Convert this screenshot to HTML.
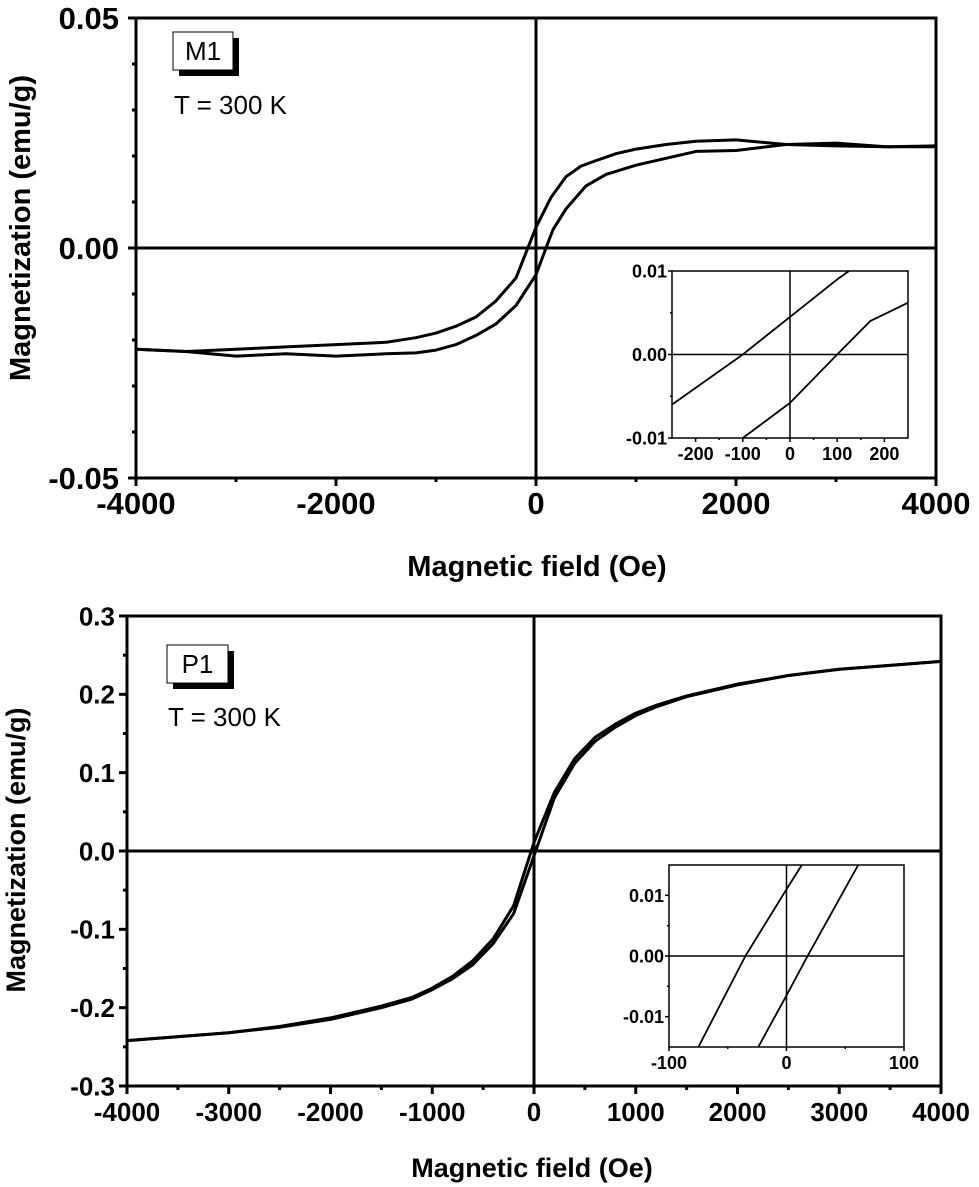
<!DOCTYPE html>
<html><head><meta charset="utf-8"><style>
body{margin:0;background:#fff}
svg{display:block;font-family:"Liberation Sans",Arial,sans-serif}
</style></head><body>
<svg id="s" width="979" height="1187" viewBox="0 0 979 1187" xmlns="http://www.w3.org/2000/svg"></svg>
<script>
// ---- Data: M1 (top) ----
const m1UpperH=[-4000,-3500,-3000,-2500,-2000,-1500,-1200,-1000,-800,-600,-400,-200,0,150,300,450,600,800,1000,1300,1600,2000,2500,3000,3500,4000];
const m1UpperM=[-0.022,-0.0225,-0.022,-0.0215,-0.021,-0.0205,-0.0195,-0.0185,-0.017,-0.015,-0.0115,-0.0065,0.0045,0.011,0.0155,0.0178,0.019,0.0205,0.0215,0.0225,0.0232,0.0235,0.0225,0.0222,0.022,0.022];
const m1LowerH=[-4000,-3500,-3000,-2500,-2000,-1500,-1200,-1000,-800,-600,-400,-200,0,100,170,300,500,700,1000,1300,1600,2000,2500,3000,3500,4000];
const m1LowerM=[-0.022,-0.0225,-0.0235,-0.023,-0.0235,-0.023,-0.0228,-0.0222,-0.021,-0.019,-0.0165,-0.0125,-0.0058,0,0.004,0.0085,0.0135,0.016,0.018,0.0195,0.021,0.0212,0.0225,0.0228,0.022,0.0222];
const m1InUpH=[-250,-100,0,100,125];
const m1InUpM=[-0.006,0,0.0045,0.009,0.010];
const m1InLoH=[-100,0,100,170,250];
const m1InLoM=[-0.010,-0.0058,0,0.004,0.0062];
// ---- Data: P1 (bottom) ----
const p1UpperH=[-4000,-3000,-2500,-2000,-1500,-1200,-1000,-800,-600,-400,-200,0,200,400,600,800,1000,1200,1500,2000,2500,3000,3500,4000];
const p1UpperM=[-0.242,-0.232,-0.224,-0.213,-0.198,-0.187,-0.175,-0.16,-0.14,-0.112,-0.07,0.011,0.075,0.118,0.145,0.162,0.176,0.186,0.198,0.213,0.224,0.232,0.237,0.242];
const p1LowerH=[-4000,-3000,-2500,-2000,-1500,-1200,-1000,-800,-600,-400,-200,0,200,400,600,800,1000,1200,1500,2000,2500,3000,3500,4000];
const p1LowerM=[-0.242,-0.232,-0.225,-0.215,-0.2,-0.189,-0.177,-0.163,-0.145,-0.118,-0.08,-0.006,0.068,0.112,0.14,0.158,0.173,0.184,0.197,0.212,0.224,0.232,0.237,0.242];
const p1InUpH=[-75,-35,0,13];
const p1InUpM=[-0.015,0,0.011,0.015];
const p1InLoH=[-24,0,18,61];
const p1InLoM=[-0.015,-0.0065,0,0.015];

const S=document.getElementById('s');
const NS='http://www.w3.org/2000/svg';
function mk(tag,attrs,parent){const e=document.createElementNS(NS,tag);for(const k in attrs)e.setAttribute(k,attrs[k]);(parent||S).appendChild(e);return e;}
function txt(str,attrs,parent){const e=mk('text',attrs,parent);e.textContent=str;return e;}

function lin(d0,d1,r0,r1){return v=>r0+(v-d0)*(r1-r0)/(d1-d0);}

function panel(o){
  const g=mk('g',{});
  
  
  const X=lin(o.xd[0],o.xd[1],o.x0,o.x1), Y=lin(o.yd[0],o.yd[1],o.y0,o.y1);
  const clipId=o.name+'-clip';
  const cp=mk('clipPath',{id:clipId},g);mk('rect',{x:o.x0,y:o.y1,width:o.x1-o.x0,height:o.y0-o.y1},cp);
  const zx=mk('line',{x1:X(0),x2:X(0),y1:o.y1,y2:o.y0,stroke:'#000','stroke-width':o.zw},g);
  
  const zy=mk('line',{x1:o.x0,x2:o.x1,y1:Y(0),y2:Y(0),stroke:'#000','stroke-width':o.zw},g);
  
  o.series.forEach((s,i)=>{
    const d=s.h.map((h,j)=>(j?'L':'M')+X(h).toFixed(1)+','+Y(s.m[j]).toFixed(1)).join('');
    const p=mk('path',{d:d,fill:'none',stroke:'#000','stroke-width':o.lw,'stroke-linejoin':'round','clip-path':'url(#'+clipId+')'},g);
    
    
  });
  const fr=mk('rect',{x:o.x0,y:o.y1,width:o.x1-o.x0,height:o.y0-o.y1,fill:'none',stroke:'#000','stroke-width':o.fw},g);
  
  o.xMinor.forEach(v=>mk('line',{x1:X(v),x2:X(v),y1:o.y0,y2:o.y0+o.tl/2,stroke:'#000','stroke-width':o.fw},g));
  o.xMajor.forEach((v,i)=>{
    mk('line',{x1:X(v),x2:X(v),y1:o.y0,y2:o.y0+o.tl,stroke:'#000','stroke-width':o.fw},g);
    const t=txt(o.xLabels[i],{x:X(v),y:o.y0+o.xlo,'text-anchor':'middle','font-size':o.fs,'font-weight':'bold'},g);
    
  });
  o.yMinor.forEach(v=>mk('line',{x1:o.x0,x2:o.x0-o.tl/2,y1:Y(v),y2:Y(v),stroke:'#000','stroke-width':o.fw},g));
  o.yMajor.forEach((v,i)=>{
    mk('line',{x1:o.x0,x2:o.x0-o.tl,y1:Y(v),y2:Y(v),stroke:'#000','stroke-width':o.fw},g);
    const t=txt(o.yLabels[i],{x:o.x0-o.ylo,y:Y(v)+o.fs*0.36,'text-anchor':'end','font-size':o.fs,'font-weight':'bold'},g);
    
  });
  return g;
}

panel({name:'m1-main-chart',xd:[-4000,4000],yd:[-0.05,0.05],x0:136,x1:936,y0:478,y1:18,zw:3,lw:3,fw:3,tl:8,fs:31,xlo:36,ylo:17,
  series:[{name:'m1-upper-branch',h:m1UpperH,m:m1UpperM},{name:'m1-lower-branch',h:m1LowerH,m:m1LowerM}],
  xMajor:[-4000,-2000,0,2000,4000],xLabels:['-4000','-2000','0','2000','4000'],xMinor:[-3000,-1000,1000,3000],
  yMajor:[0.05,0,-0.05],yLabels:['0.05','0.00','-0.05'],yMinor:[0.04,0.03,0.02,0.01,-0.01,-0.02,-0.03,-0.04]});
mk('rect',{x:672,y:271,width:236,height:167,fill:'#fff'});
panel({name:'m1-inset-chart',xd:[-250,250],yd:[-0.01,0.01],x0:672,x1:908,y0:438,y1:271,zw:1.5,lw:1.8,fw:1.5,tl:4,fs:18,xlo:22,ylo:5,
  series:[{name:'m1-inset-upper-branch',h:m1InUpH,m:m1InUpM},{name:'m1-inset-lower-branch',h:m1InLoH,m:m1InLoM}],
  xMajor:[-200,-100,0,100,200],xLabels:['-200','-100','0','100','200'],xMinor:[-150,-50,50,150],
  yMajor:[0.01,0,-0.01],yLabels:['0.01','0.00','-0.01'],yMinor:[0.005,-0.005]});

panel({name:'p1-main-chart',xd:[-4000,4000],yd:[-0.3,0.3],x0:127,x1:941,y0:1086,y1:616,zw:3,lw:3,fw:3,tl:8,fs:26,xlo:35,ylo:12,
  series:[{name:'p1-upper-branch',h:p1UpperH,m:p1UpperM},{name:'p1-lower-branch',h:p1LowerH,m:p1LowerM}],
  xMajor:[-4000,-3000,-2000,-1000,0,1000,2000,3000,4000],xLabels:['-4000','-3000','-2000','-1000','0','1000','2000','3000','4000'],
  xMinor:[-3500,-2500,-1500,-500,500,1500,2500,3500],
  yMajor:[0.3,0.2,0.1,0,-0.1,-0.2,-0.3],yLabels:['0.3','0.2','0.1','0.0','-0.1','-0.2','-0.3'],yMinor:[0.25,0.15,0.05,-0.05,-0.15,-0.25]});
mk('rect',{x:669,y:865,width:235,height:182,fill:'#fff'});
panel({name:'p1-inset-chart',xd:[-100,100],yd:[-0.015,0.015],x0:669,x1:904,y0:1047,y1:865,zw:1.5,lw:1.8,fw:1.5,tl:4,fs:18,xlo:22,ylo:5,
  series:[{name:'p1-inset-upper-branch',h:p1InUpH,m:p1InUpM},{name:'p1-inset-lower-branch',h:p1InLoH,m:p1InLoM}],
  xMajor:[-100,0,100],xLabels:['-100','0','100'],xMinor:[-50,50],
  yMajor:[0.01,0,-0.01],yLabels:['0.01','0.00','-0.01'],yMinor:[0.005,-0.005]});

function label(name,x,y,w,h,str){
  const g=mk('g',{});
  mk('rect',{x:x+6,y:y+6,width:w,height:h,fill:'#000'},g);
  mk('rect',{x:x,y:y,width:w,height:h,fill:'#fff',stroke:'#000','stroke-width':1},g);
  txt(str,{x:x+w/2,y:y+h/2+9,'text-anchor':'middle','font-size':26},g);
}
label('sample-label-m1',173,32,60,38,'M1');
label('sample-label-p1',167,645,61,38,'P1');
let t;
t=txt('T = 300 K',{x:174,y:114,'font-size':26});
t=txt('T = 300 K',{x:168,y:726,'font-size':26});
t=txt('Magnetic field (Oe)',{x:537,y:576,'text-anchor':'middle','font-size':29,'font-weight':'bold'});
t=txt('Magnetic field (Oe)',{x:532,y:1177,'text-anchor':'middle','font-size':27,'font-weight':'bold'});
t=txt('Magnetization (emu/g)',{x:0,y:0,'text-anchor':'middle','font-size':29,'font-weight':'bold',transform:'translate(30,228) rotate(-90)'});
t=txt('Magnetization (emu/g)',{x:0,y:0,'text-anchor':'middle','font-size':27,'font-weight':'bold',transform:'translate(25,850) rotate(-90)'});
</script>
</body></html>
